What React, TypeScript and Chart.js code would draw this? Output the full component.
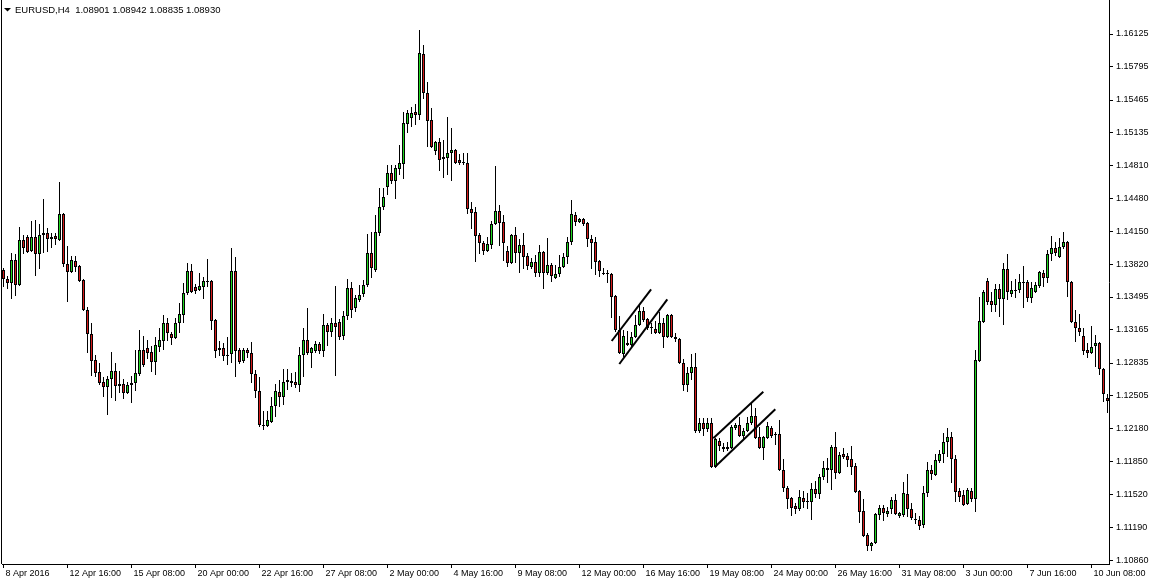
import React, { useEffect, useRef } from 'react';
import { Chart, registerables } from 'chart.js';

Chart.register(...registerables);

const chartTitle = 'EURUSD,H4  1.08901 1.08942 1.08835 1.08930';

const timeLabels = [
  '8 Apr 2016', '12 Apr 16:00', '15 Apr 08:00', '20 Apr 00:00', '22 Apr 16:00', '27 Apr 08:00',
  '2 May 00:00', '4 May 16:00', '9 May 08:00', '12 May 00:00', '16 May 16:00', '19 May 08:00',
  '24 May 00:00', '26 May 16:00', '31 May 08:00', '3 Jun 00:00', '7 Jun 16:00', '10 Jun 08:00',
];
const barsPerLabel = 16;

const priceTicks = [
  1.1086, 1.1119, 1.1152, 1.1185, 1.1218, 1.12505, 1.12835, 1.13165, 1.13495,
  1.1382, 1.1415, 1.1448, 1.1481, 1.15135, 1.15465, 1.15795, 1.16125,
];

const openPrices = [
  1.13765, 1.13675, 1.13635, 1.13865, 1.13615, 1.14065, 1.14095, 1.13955, 1.14095, 1.13925,
  1.14115, 1.14135, 1.14095, 1.14105, 1.14065, 1.14325, 1.13825, 1.13745, 1.13855, 1.13805,
  1.13665, 1.13365, 1.13125, 1.12865, 1.12745, 1.12645, 1.12595, 1.12675, 1.12755, 1.12625,
  1.12625, 1.12535, 1.12615, 1.12635, 1.12725, 1.12965, 1.12985, 1.12945, 1.12845, 1.12995,
  1.13055, 1.13235, 1.13125, 1.13085, 1.13235, 1.13315, 1.13535, 1.13755, 1.13595, 1.13565,
  1.13595, 1.13645, 1.13655, 1.13265, 1.12985, 1.12985, 1.12915, 1.12925, 1.13755, 1.12965,
  1.12855, 1.12965, 1.12935, 1.12725, 1.12555, 1.12215, 1.12205, 1.12245, 1.12405, 1.12545,
  1.12495, 1.12645, 1.12635, 1.12645, 1.12615, 1.12915, 1.13065, 1.12935, 1.12955, 1.13025,
  1.12955, 1.13215, 1.13145, 1.13235, 1.13245, 1.13105, 1.13305, 1.13585, 1.13385, 1.13465,
  1.13525, 1.13615, 1.13935, 1.13765, 1.14135, 1.14395, 1.14595, 1.14735, 1.14655, 1.14775,
  1.14825, 1.15225, 1.15285, 1.15345, 1.15315, 1.15925, 1.15535, 1.15265, 1.14955, 1.15045,
  1.14875, 1.14885, 1.14935, 1.14965, 1.14865, 1.14845, 1.14835, 1.14375, 1.14345, 1.14115,
  1.14035, 1.13955, 1.14015, 1.14225, 1.14355, 1.14245, 1.13955, 1.13835, 1.14115, 1.13935,
  1.14015, 1.13905, 1.13795, 1.13845, 1.13735, 1.13945, 1.13735, 1.13815, 1.13685, 1.13725,
  1.13795, 1.13895, 1.14045, 1.14315, 1.14245, 1.14275, 1.14235, 1.14075, 1.14045, 1.13855,
  1.13725, 1.13735, 1.13725, 1.13505, 1.13165, 1.12925, 1.13015, 1.13015, 1.13095, 1.13215,
  1.13355, 1.13275, 1.13185, 1.13175, 1.13135, 1.13235, 1.13095, 1.13315, 1.13095, 1.13075,
  1.12835, 1.12615, 1.12735, 1.12795, 1.12155, 1.12235, 1.12175, 1.12235, 1.11795, 1.12055,
  1.11995, 1.11975, 1.11985, 1.12185, 1.12215, 1.12105, 1.12155, 1.12235, 1.12305, 1.12095,
  1.11985, 1.12085, 1.12185, 1.12125, 1.12125, 1.11765, 1.11585, 1.11485, 1.11405, 1.11375,
  1.11485, 1.11445, 1.11445, 1.11575, 1.11525, 1.11695, 1.11765, 1.11765, 1.11995, 1.11735,
  1.11925, 1.11905, 1.11875, 1.11805, 1.11555, 1.11355, 1.11115, 1.11005, 1.11035, 1.11315,
  1.11385, 1.11325, 1.11375, 1.11465, 1.11305, 1.11315, 1.11525, 1.11375, 1.11275, 1.11265,
  1.11215, 1.11535, 1.11765, 1.11715, 1.11855, 1.11925, 1.12045, 1.12095, 1.11875, 1.11555,
  1.11515, 1.11425, 1.11555, 1.11475, 1.12855, 1.13245, 1.13655, 1.13455, 1.13415, 1.13575,
  1.13475, 1.13775, 1.13525, 1.13555, 1.13565, 1.13645, 1.13645, 1.13485, 1.13545, 1.13605,
  1.13735, 1.13685, 1.13925, 1.13985, 1.13895, 1.13995, 1.14045, 1.13645, 1.13245, 1.13185,
  1.13105, 1.12965, 1.12935, 1.13005, 1.13035, 1.12775, 1.12485,
];

const highPrices = [
  1.13785, 1.13705, 1.13935, 1.13925, 1.14195, 1.14115, 1.14115, 1.14255, 1.14265, 1.14225,
  1.14475, 1.14185, 1.14135, 1.14135, 1.14645, 1.14335, 1.14005, 1.13905, 1.13905, 1.13815,
  1.13675, 1.13395, 1.13235, 1.12915, 1.12835, 1.12695, 1.12705, 1.12945, 1.12835, 1.12755,
  1.12675, 1.12645, 1.12705, 1.12965, 1.13165, 1.13105, 1.13065, 1.13005, 1.13095, 1.13185,
  1.13315, 1.13285, 1.13145, 1.13285, 1.13435, 1.13635, 1.13835, 1.13825, 1.13625, 1.13735,
  1.13695, 1.13875, 1.13665, 1.13275, 1.13055, 1.13035, 1.13095, 1.13985, 1.13895, 1.12985,
  1.12985, 1.12985, 1.13045, 1.12765, 1.12695, 1.12355, 1.12355, 1.12495, 1.12625, 1.12665,
  1.12775, 1.12775, 1.12735, 1.12745, 1.12995, 1.13185, 1.13385, 1.12995, 1.13055, 1.13045,
  1.13325, 1.13235, 1.13285, 1.13605, 1.13275, 1.13355, 1.13675, 1.13645, 1.13515, 1.13615,
  1.13665, 1.14125, 1.14145, 1.14315, 1.14585, 1.14585, 1.14815, 1.14815, 1.14815, 1.15015,
  1.15345, 1.15365, 1.15395, 1.15425, 1.16165, 1.16015, 1.15645, 1.15385, 1.15055, 1.15085,
  1.15065, 1.15295, 1.15185, 1.14975, 1.14925, 1.14935, 1.14935, 1.14445, 1.14395, 1.14135,
  1.14055, 1.14095, 1.14255, 1.14805, 1.14415, 1.14315, 1.14005, 1.14125, 1.14195, 1.14075,
  1.14135, 1.13935, 1.13885, 1.13915, 1.14015, 1.13955, 1.14085, 1.13835, 1.13815, 1.13915,
  1.13935, 1.14095, 1.14465, 1.14345, 1.14285, 1.14285, 1.14245, 1.14115, 1.14095, 1.13865,
  1.13785, 1.13765, 1.13735, 1.13515, 1.13305, 1.13165, 1.13155, 1.13145, 1.13315, 1.13415,
  1.13395, 1.13285, 1.13235, 1.13255, 1.13345, 1.13285, 1.13325, 1.13325, 1.13135, 1.13085,
  1.12875, 1.12795, 1.12925, 1.12935, 1.12285, 1.12285, 1.12285, 1.12285, 1.12085, 1.12085,
  1.12035, 1.12045, 1.12215, 1.12235, 1.12295, 1.12185, 1.12295, 1.12435, 1.12385, 1.12195,
  1.12105, 1.12245, 1.12205, 1.12145, 1.12265, 1.11875, 1.11605, 1.11495, 1.11435, 1.11565,
  1.11555, 1.11535, 1.11635, 1.11655, 1.11725, 1.11855, 1.11885, 1.12015, 1.12145, 1.11945,
  1.11985, 1.11935, 1.12005, 1.11835, 1.11565, 1.11475, 1.11135, 1.11045, 1.11335, 1.11415,
  1.11415, 1.11395, 1.11495, 1.11525, 1.11345, 1.11645, 1.11725, 1.11435, 1.11335, 1.11305,
  1.11605, 1.11845, 1.11815, 1.11925, 1.11965, 1.12135, 1.12185, 1.12145, 1.11915, 1.11585,
  1.11565, 1.11585, 1.11585, 1.12965, 1.13495, 1.13565, 1.13685, 1.13545, 1.13625, 1.13625,
  1.13835, 1.13925, 1.13655, 1.13675, 1.13725, 1.13805, 1.13665, 1.13645, 1.13645, 1.13755,
  1.13765, 1.13965, 1.14105, 1.14045, 1.14085, 1.14145, 1.14055, 1.13655, 1.13365, 1.13325,
  1.13185, 1.13035, 1.13205, 1.13115, 1.13045, 1.12785, 1.12525,
];

const lowPrices = [
  1.13595, 1.13575, 1.13475, 1.13505, 1.13605, 1.13925, 1.13935, 1.13945, 1.13705, 1.13775,
  1.13935, 1.13945, 1.13985, 1.14015, 1.14055, 1.13795, 1.13445, 1.13735, 1.13745, 1.13645,
  1.13355, 1.12935, 1.12705, 1.12695, 1.12615, 1.12495, 1.12315, 1.12485, 1.12455, 1.12535,
  1.12475, 1.12525, 1.12435, 1.12555, 1.12705, 1.12795, 1.12875, 1.12745, 1.12715, 1.12945,
  1.12965, 1.13055, 1.13015, 1.13075, 1.13135, 1.13235, 1.13515, 1.13535, 1.13525, 1.13555,
  1.13475, 1.13595, 1.13165, 1.12885, 1.12905, 1.12855, 1.12815, 1.12835, 1.12695, 1.12825,
  1.12835, 1.12885, 1.12635, 1.12485, 1.12195, 1.12165, 1.12195, 1.12235, 1.12295, 1.12395,
  1.12415, 1.12565, 1.12595, 1.12585, 1.12545, 1.12695, 1.12915, 1.12785, 1.12935, 1.12925,
  1.12895, 1.13005, 1.13095, 1.12705, 1.13065, 1.13065, 1.13265, 1.13285, 1.13345, 1.13445,
  1.13495, 1.13595, 1.13685, 1.13745, 1.14105, 1.14365, 1.14515, 1.14625, 1.14475, 1.14715,
  1.14675, 1.15135, 1.15195, 1.15215, 1.15265, 1.15475, 1.14995, 1.14985, 1.14915, 1.14755,
  1.14685, 1.14715, 1.14655, 1.14825, 1.14815, 1.14815, 1.14325, 1.14175, 1.13845, 1.13925,
  1.13915, 1.13945, 1.13975, 1.14215, 1.14005, 1.13855, 1.13795, 1.13825, 1.13835, 1.13735,
  1.13775, 1.13765, 1.13775, 1.13695, 1.13695, 1.13575, 1.13715, 1.13645, 1.13675, 1.13695,
  1.13785, 1.13825, 1.14015, 1.14205, 1.14235, 1.14205, 1.13995, 1.13775, 1.13715, 1.13695,
  1.13715, 1.13635, 1.13285, 1.13145, 1.12925, 1.12895, 1.13005, 1.12995, 1.13085, 1.13205,
  1.13245, 1.13165, 1.13125, 1.13125, 1.13125, 1.12985, 1.13085, 1.13085, 1.13045, 1.12825,
  1.12555, 1.12545, 1.12665, 1.12135, 1.12135, 1.12105, 1.12145, 1.11785, 1.11785, 1.11955,
  1.11945, 1.11955, 1.11975, 1.12165, 1.12095, 1.12065, 1.12145, 1.12215, 1.12075, 1.11975,
  1.11865, 1.12075, 1.12085, 1.12015, 1.11755, 1.11545, 1.11375, 1.11305, 1.11325, 1.11355,
  1.11385, 1.11375, 1.11265, 1.11485, 1.11475, 1.11665, 1.11635, 1.11565, 1.11675, 1.11725,
  1.11875, 1.11795, 1.11715, 1.11535, 1.11235, 1.11095, 1.10955, 1.10955, 1.11025, 1.11265,
  1.11255, 1.11295, 1.11325, 1.11315, 1.11285, 1.11295, 1.11295, 1.11265, 1.11225, 1.11165,
  1.11185, 1.11495, 1.11665, 1.11705, 1.11835, 1.11835, 1.11895, 1.11635, 1.11445, 1.11445,
  1.11405, 1.11415, 1.11445, 1.11345, 1.12845, 1.13235, 1.13415, 1.13345, 1.13345, 1.13295,
  1.13215, 1.13465, 1.13495, 1.13485, 1.13535, 1.13385, 1.13445, 1.13435, 1.13535, 1.13585,
  1.13595, 1.13635, 1.13855, 1.13905, 1.13885, 1.13975, 1.13495, 1.13235, 1.13045, 1.13105,
  1.12915, 1.12885, 1.12925, 1.12795, 1.12715, 1.12445, 1.12335,
];

const closePrices = [
  1.13675, 1.13635, 1.13865, 1.13615, 1.14065, 1.13985, 1.13945, 1.14095, 1.13925, 1.14115,
  1.14135, 1.14075, 1.14075, 1.14075, 1.14325, 1.13825, 1.13745, 1.13865, 1.13795, 1.13655,
  1.13365, 1.13125, 1.12855, 1.12735, 1.12635, 1.12595, 1.12675, 1.12755, 1.12605, 1.12605,
  1.12535, 1.12615, 1.12635, 1.12735, 1.12965, 1.12815, 1.12935, 1.12845, 1.13015, 1.13065,
  1.13235, 1.13135, 1.13085, 1.13235, 1.13325, 1.13535, 1.13755, 1.13545, 1.13555, 1.13605,
  1.13655, 1.13655, 1.13255, 1.12955, 1.12965, 1.12905, 1.12905, 1.13755, 1.12955, 1.12845,
  1.12965, 1.12935, 1.12725, 1.12555, 1.12215, 1.12205, 1.12265, 1.12405, 1.12555, 1.12495,
  1.12645, 1.12665, 1.12655, 1.12615, 1.12915, 1.13065, 1.12935, 1.12985, 1.13025, 1.12955,
  1.13215, 1.13145, 1.13235, 1.13195, 1.13095, 1.13305, 1.13585, 1.13365, 1.13485, 1.13515,
  1.13615, 1.13935, 1.13785, 1.14145, 1.14395, 1.14495, 1.14735, 1.14655, 1.14785, 1.14835,
  1.15235, 1.15335, 1.15335, 1.15315, 1.15935, 1.15535, 1.15255, 1.14995, 1.15045, 1.14865,
  1.14895, 1.14935, 1.14965, 1.14835, 1.14835, 1.14835, 1.14375, 1.14335, 1.14105, 1.14035,
  1.13955, 1.14025, 1.14225, 1.14355, 1.14235, 1.14035, 1.13835, 1.14115, 1.13935, 1.14015,
  1.13895, 1.13805, 1.13845, 1.13735, 1.13945, 1.13735, 1.13815, 1.13705, 1.13725, 1.13795,
  1.13895, 1.14045, 1.14325, 1.14245, 1.14275, 1.14225, 1.14075, 1.14035, 1.13845, 1.13755,
  1.13735, 1.13725, 1.13495, 1.13165, 1.12935, 1.13105, 1.13035, 1.13095, 1.13215, 1.13355,
  1.13265, 1.13185, 1.13195, 1.13135, 1.13235, 1.13095, 1.13315, 1.13095, 1.13075, 1.12835,
  1.12615, 1.12735, 1.12795, 1.12155, 1.12235, 1.12175, 1.12235, 1.11795, 1.12075, 1.12005,
  1.11975, 1.11995, 1.12195, 1.12215, 1.12105, 1.12155, 1.12235, 1.12305, 1.12085, 1.11985,
  1.12095, 1.12205, 1.12105, 1.12115, 1.11765, 1.11585, 1.11475, 1.11385, 1.11375, 1.11495,
  1.11445, 1.11455, 1.11575, 1.11525, 1.11695, 1.11785, 1.11785, 1.11995, 1.11735, 1.11915,
  1.11895, 1.11865, 1.11795, 1.11545, 1.11345, 1.11105, 1.11005, 1.11035, 1.11325, 1.11385,
  1.11335, 1.11355, 1.11465, 1.11325, 1.11335, 1.11535, 1.11375, 1.11285, 1.11265, 1.11205,
  1.11535, 1.11765, 1.11725, 1.11865, 1.11925, 1.12045, 1.12095, 1.11875, 1.11545, 1.11495,
  1.11415, 1.11565, 1.11475, 1.12865, 1.13255, 1.13545, 1.13445, 1.13415, 1.13575, 1.13475,
  1.13775, 1.13545, 1.13565, 1.13565, 1.13645, 1.13635, 1.13485, 1.13585, 1.13615, 1.13745,
  1.13685, 1.13925, 1.13985, 1.13935, 1.13995, 1.14045, 1.13645, 1.13245, 1.13185, 1.13145,
  1.12955, 1.12935, 1.12995, 1.13035, 1.12775, 1.12525, 1.12455,
];

// Hand-drawn channel trend lines: [bar index, price] end points
const channelLines = [
  [[152.05, 1.13055], [161.9, 1.13572]],
  [[153.95, 1.12825], [165.95, 1.13472]],
  [[177.45, 1.12082], [189.95, 1.12548]],
  [[177.9, 1.11798], [192.95, 1.12372]],
];

const BULL = '#1fd61f';
const BEAR = '#d41a1a';
const FONT = '"Liberation Sans", Arial, sans-serif';

const mt4Frame = {
  id: 'mt4Frame',
  afterDraw(chart: any) {
    const { ctx, chartArea } = chart;
    ctx.save();
    ctx.fillStyle = '#000';
    ctx.fillRect(chartArea.left - 1, chartArea.top, 1, chartArea.bottom - chartArea.top);
    ctx.beginPath();
    ctx.moveTo(4, 8);
    ctx.lineTo(11, 8);
    ctx.lineTo(7.5, 11.5);
    ctx.closePath();
    ctx.fill();
    ctx.font = `9.5px ${FONT}`;
    ctx.textBaseline = 'middle';
    ctx.textAlign = 'left';
    ctx.fillText(chartTitle, 15, 10.5);
    ctx.restore();
  },
};

export default function App() {
  const canvasRef = useRef<HTMLCanvasElement | null>(null);

  useEffect(() => {
    const canvas = canvasRef.current;
    if (!canvas) return;
    const idx = openPrices.map((_, i) => i);
    const wickData = idx.map((i) => ({ x: i, y: [lowPrices[i], highPrices[i]] }));
    const bodyData = idx.map((i) => ({ x: i, y: [openPrices[i], closePrices[i]] }));
    const bodyColors = idx.map((i) => (closePrices[i] > openPrices[i] ? BULL : BEAR));

    const lineSets = channelLines.map((pts) => ({
      type: 'line' as const,
      data: pts.map(([x, y]) => ({ x, y })),
      borderColor: '#000',
      borderWidth: 2,
      pointRadius: 0,
      tension: 0,
      fill: false,
      order: 0,
    }));

    const chart = new Chart(canvas, {
      type: 'bar',
      data: {
        datasets: [
          ...lineSets,
          {
            type: 'bar',
            data: bodyData as any,
            backgroundColor: bodyColors,
            borderColor: '#000',
            borderWidth: 1,
            borderSkipped: false,
            barThickness: 3,
            grouped: false,
            inflateAmount: 0,
            order: 1,
          },
          {
            type: 'bar',
            data: wickData as any,
            backgroundColor: '#000',
            borderWidth: 0,
            barThickness: 1,
            grouped: false,
            inflateAmount: 0,
            order: 2,
          },
        ] as any,
      },
      options: {
        responsive: false,
        animation: false,
        events: [],
        layout: { padding: { left: 2, top: 0, right: 0, bottom: 0 } },
        plugins: { legend: { display: false }, tooltip: { enabled: false }, title: { display: false } },
        scales: {
          x: {
            type: 'linear',
            min: -0.375,
            max: 276.375,
            offset: false,
            grid: { display: true, drawOnChartArea: false, drawTicks: true, tickLength: 4, color: '#000', offset: false },
            border: { display: true, color: '#000', width: 1 },
            afterBuildTicks: (scale: any) => {
              scale.ticks = timeLabels.map((_, k) => ({ value: k * barsPerLabel }));
            },
            afterFit: (scale: any) => {
              scale.height = 21;
              scale.paddingLeft = 0;
              scale.paddingRight = 0;
            },
            ticks: {
              autoSkip: false,
              maxRotation: 0,
              minRotation: 0,
              align: 'start',
              labelOffset: 2,
              padding: 0,
              color: '#000',
              font: { family: FONT, size: 9 },
              callback: (v: any) => timeLabels[Math.round(Number(v) / barsPerLabel)] ?? '',
            },
          },
          y: {
            type: 'linear',
            position: 'right',
            min: 1.10825,
            max: 1.16465,
            grid: { display: true, drawOnChartArea: false, drawTicks: true, tickLength: 4, color: '#000' },
            border: { display: true, color: '#000', width: 1 },
            afterBuildTicks: (scale: any) => {
              scale.ticks = priceTicks.map((v) => ({ value: v }));
            },
            afterFit: (scale: any) => {
              scale.width = 42;
              scale.paddingTop = 0;
              scale.paddingBottom = 0;
            },
            ticks: {
              padding: 3,
              color: '#000',
              font: { family: FONT, size: 9 },
              callback: (v: any) => Number(v).toFixed(5),
            },
          },
        },
      },
      plugins: [mt4Frame],
    });
    return () => chart.destroy();
  }, []);

  return (
    <div style={{ position: 'absolute', left: 0, top: 0, width: 1151, height: 585, background: '#fff' }}>
      <canvas ref={canvasRef} width={1151} height={585} style={{ display: 'block' }} />
    </div>
  );
}
